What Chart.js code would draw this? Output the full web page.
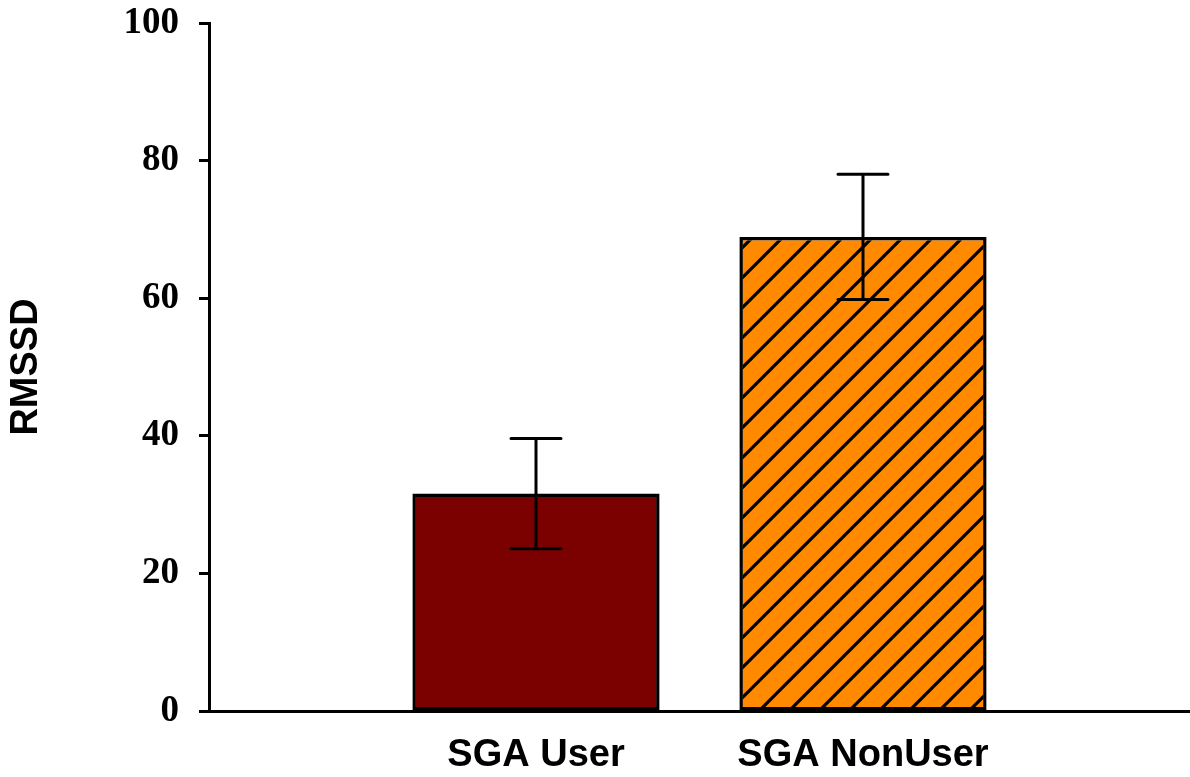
<!DOCTYPE html>
<html>
<head>
<meta charset="utf-8">
<title>RMSSD by SGA use</title>
<script src="https://cdn.jsdelivr.net/npm/chart.js@4/dist/chart.umd.min.js"></script>
<style>
  html, body { margin: 0; padding: 0; background: #ffffff; }
  #wrap { width: 1190px; height: 777px; }
</style>
</head>
<body>
<div id="wrap"><canvas id="chart" width="1190" height="777"></canvas></div>
<script>
// Group labels, mean RMSSD and error (± half-height of the whiskers)
const categories = ['SGA User', 'SGA NonUser'];
const rmssdMean = [31.6, 68.9];
const rmssdError = [8.0, 9.1];
const yTicks = [0, 20, 40, 60, 80, 100];

// Diagonal hatch fill for the non-user bar
function makeHatch(bg, fg) {
  const size = 30;
  const c = document.createElement('canvas');
  c.width = size; c.height = size;
  const g = c.getContext('2d');
  g.fillStyle = bg;
  g.fillRect(0, 0, size, size);
  g.strokeStyle = fg;
  g.lineWidth = 3.2;
  g.lineCap = 'square';
  g.beginPath();
  g.moveTo(-size, size * 2); g.lineTo(size * 2, -size);
  g.moveTo(-size, size); g.lineTo(size, -size);
  g.moveTo(0, size * 2); g.lineTo(size * 2, 0);
  g.stroke();
  return g.createPattern(c, 'repeat');
}

const ctx = document.getElementById('chart').getContext('2d');
const fills = ['#7b0000', makeHatch('#ff8a00', '#000000')];

// Whiskers drawn from the mean ± error through the chart scales
const errorBars = {
  id: 'errorBars',
  afterDatasetsDraw(chart) {
    const xs = chart.scales.x, ys = chart.scales.y;
    const c = chart.ctx;
    c.save();
    c.strokeStyle = '#000000';
    c.lineWidth = 3;
    c.lineCap = 'round';
    rmssdMean.forEach((m, i) => {
      const x = xs.getPixelForValue(i + 1);
      const top = ys.getPixelForValue(m + rmssdError[i]);
      const bot = ys.getPixelForValue(m - rmssdError[i]);
      const half = 25;
      c.beginPath();
      c.moveTo(x, top); c.lineTo(x, bot);
      c.moveTo(x - half, top); c.lineTo(x + half, top);
      c.moveTo(x - half, bot); c.lineTo(x + half, bot);
      c.stroke();
    });
    c.restore();
  }
};

new Chart(ctx, {
  type: 'bar',
  data: {
    datasets: [{
      data: categories.map((c, i) => ({ x: i + 1, y: rmssdMean[i] })),
      backgroundColor: fills,
      borderColor: '#000000',
      borderWidth: 3.5,
      borderSkipped: false,
      categoryPercentage: 1.0,
      barPercentage: 0.756
    }]
  },
  options: {
    responsive: false,
    animation: false,
    devicePixelRatio: 1,
    layout: { padding: { top: 23, right: 0, left: 0, bottom: 0 } },
    plugins: {
      legend: { display: false },
      tooltip: { enabled: false }
    },
    scales: {
      x: {
        type: 'linear',
        offset: false,
        min: 0,
        max: 3,
        afterBuildTicks(scale) {
          scale.ticks = categories.map((c, i) => ({ value: i + 1 }));
        },
        afterFit(scale) {
          scale.height = 66;
          scale.paddingLeft = 0;
          scale.paddingRight = 0;
        },
        grid: { display: false, drawTicks: false },
        border: { display: true, color: '#000000', width: 3 },
        ticks: {
          padding: 22,
          color: '#000000',
          maxRotation: 0,
          autoSkip: false,
          font: { family: '"Liberation Sans", Arial, sans-serif', size: 38, weight: 'bold' },
          callback: (v) => categories[v - 1] || ''
        }
      },
      y: {
        min: 0,
        max: 100,
        afterBuildTicks(scale) {
          scale.ticks = yTicks.map(v => ({ value: v }));
        },
        afterFit(scale) {
          scale.width = 209;
          scale.paddingTop = 0;
          scale.paddingBottom = 0;
        },
        grid: {
          display: true,
          drawOnChartArea: false,
          drawTicks: true,
          tickLength: 10,
          tickWidth: 3,
          tickColor: '#000000'
        },
        border: { display: true, color: '#000000', width: 3 },
        ticks: {
          padding: 20,
          color: '#000000',
          font: { family: '"Liberation Serif", "Times New Roman", serif', size: 37, weight: 'bold' }
        },
        title: {
          display: true,
          text: 'RMSSD',
          color: '#000000',
          padding: { top: 4, bottom: 0 },
          font: { family: '"Liberation Sans", Arial, sans-serif', size: 38, weight: 'bold' }
        }
      }
    }
  },
  plugins: [errorBars]
});
</script>
</body>
</html>
